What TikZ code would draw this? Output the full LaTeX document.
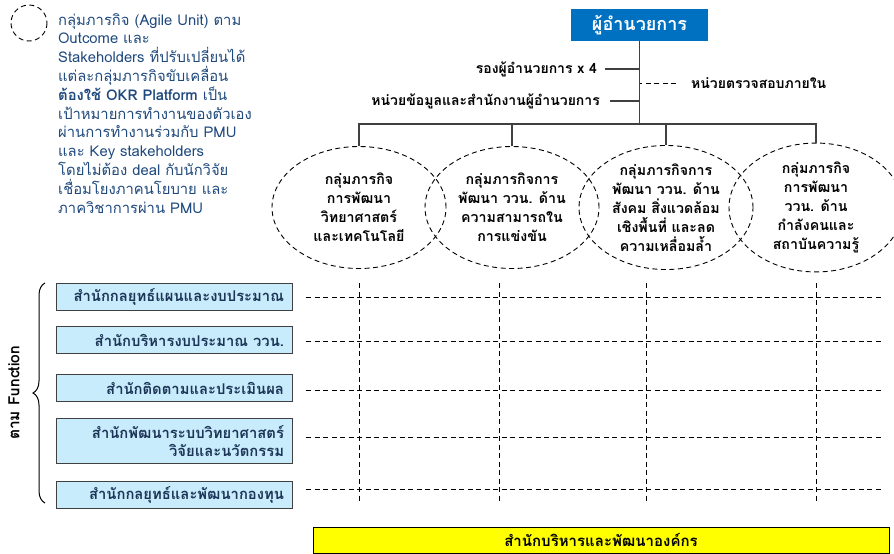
\documentclass[tikz,border=0pt]{standalone}
\usepackage{fontspec}
\setmainfont[Script=Thai]{Loma}
\usetikzlibrary{positioning,shapes.geometric,decorations.pathreplacing}
\definecolor{dirBlue}{RGB}{0,112,192}
\definecolor{noteBlue}{RGB}{31,73,125}
\definecolor{funcFill}{RGB}{200,236,252}
\definecolor{funcText}{RGB}{28,52,86}
\definecolor{lineGray}{RGB}{64,64,64}
\definecolor{supportYellow}{RGB}{255,255,0}

\tikzset{
  orgline/.style={draw=lineGray, line width=1.2pt},
  dashline/.style={draw=black, line width=0.9pt, dash pattern=on 5pt off 3.5pt},
  toplabel/.style={font=\bfseries\fontsize{14}{16}\selectfont, inner sep=0pt},
  groupellipse/.style={draw, ellipse, line width=0.9pt, dash pattern=on 5pt off 3.5pt,
    minimum width=174pt, minimum height=122pt, inner sep=0pt, align=center,
    font=\bfseries\fontsize{14.2}{19}\selectfont},
  funcbox/.style={draw=lineGray, line width=0.8pt, fill=funcFill, text=funcText,
    text width=220pt, align=right, inner xsep=8pt, minimum height=27pt,
    font=\bfseries\fontsize{14.8}{18}\selectfont},
}

\begin{document}
\begin{tikzpicture}[x=1pt, y=-1pt]
\useasboundingbox (0,0) rectangle (894,554);

% legend
\draw[dashline] (29,23) circle (18);
\node[anchor=north west, align=left, inner sep=0pt, text=noteBlue,
  font=\fontsize{14.8}{18.8}\selectfont] (note) at (58,13) {%
  กลุ่มภารกิจ (Agile Unit) ตาม\\
  Outcome และ\\
  Stakeholders ที่ปรับเปลี่ยนได้\\
  แต่ละกลุ่มภารกิจขับเคลื่อน\\
  \textbf{ต้องใช้ OKR Platform} เป็น\\
  เป้าหมายการทำงานของตัวเอง\\
  ผ่านการทำงานร่วมกับ PMU\\
  และ Key stakeholders\\
  โดยไม่ต้อง deal กับนักวิจัย\\
  เชื่อมโยงภาคนโยบาย และ\\
  ภาควิชาการผ่าน PMU};

% top of the chart
\node[fill=dirBlue, text=white, minimum width=137pt, minimum height=32pt,
  font=\bfseries\fontsize{18}{20}\selectfont] (dir) at (639.5,25) {ผู้อำนวยการ};
\node[toplabel, anchor=east] (vp) at (597,69) {รองผู้อำนวยการ x 4};
\node[toplabel, anchor=west] (audit) at (691,83) {หน่วยตรวจสอบภายใน};
\node[toplabel, anchor=east] (office) at (600,101) {หน่วยข้อมูลและสำนักงานผู้อำนวยการ};
\coordinate (hub) at (639.5,124);

% mission groups
\node[groupellipse] (g1) at (359,207.5) {กลุ่มภารกิจ\\การพัฒนา\\วิทยาศาสตร์\\และเทคโนโลยี};
\node[groupellipse] (g2) at (512,207.5) {กลุ่มภารกิจการ\\พัฒนา ววน. ด้าน\\ความสามารถใน\\การแข่งขัน};
\node[groupellipse] (g3) at (666,207.5) {กลุ่มภารกิจการ\\พัฒนา ววน. ด้าน\\สังคม สิ่งแวดล้อม\\เชิงพื้นที่ และลด\\ความเหลื่อมล้ำ};
\node[groupellipse] (g4) at (816,207.5) {กลุ่มภารกิจ\\การพัฒนา\\ววน. ด้าน\\กำลังคนและ\\สถาบันความรู้};

\draw[orgline] (dir.south) -- (hub);
\draw[orgline] ([xshift=8pt]vp.east) -- (vp.east -| dir.south);
\draw[orgline] ([xshift=10pt]office.east) -- (office.east -| dir.south);
\draw[dashline] ([xshift=-15pt]audit.west) -- (audit.west -| dir.south);
\draw[orgline] (g1.north) |- (hub) -| (g4.north);
\draw[orgline] (g2.north) -- (g2.north |- hub);
\draw[orgline] (g3.north) -- (g3.north |- hub);

% function offices
\node[funcbox] (f1) at (174,296.5) {สำนักกลยุทธ์แผนและงบประมาณ};
\node[funcbox, below=16pt of f1] (f2) {สำนักบริหารงบประมาณ ววน.};
\node[funcbox, below=20pt of f2] (f3) {สำนักติดตามและประเมินผล};
\node[funcbox, below=16pt of f3, minimum height=45pt] (f4) {สำนักพัฒนาระบบวิทยาศาสตร์\\วิจัยและนวัตกรรม};
\node[funcbox, below=17pt of f4] (f5) {สำนักกลยุทธ์และพัฒนากองทุน};

\draw[line width=1pt, decorate, decoration={brace, amplitude=12pt}]
  (45,503) -- (45,283);
\node[rotate=90, font=\bfseries\fontsize{15.5}{17}\selectfont] (byfunc) at (14,393) {ตาม Function};

% matrix grid
\foreach \y in {297,341,390,437,489}
  \draw[dashline] (306,\y) -- (883,\y);
\foreach \x in {359,499,646,816}
  \draw[dashline] (\x,283) -- (\x,503);

% support office
\node[draw, line width=0.8pt, fill=supportYellow, minimum width=576pt, minimum height=26pt,
  font=\bfseries\fontsize{15}{17}\selectfont] (support) at (601,540) {สำนักบริหารและพัฒนาองค์กร};
\end{tikzpicture}
\end{document}
